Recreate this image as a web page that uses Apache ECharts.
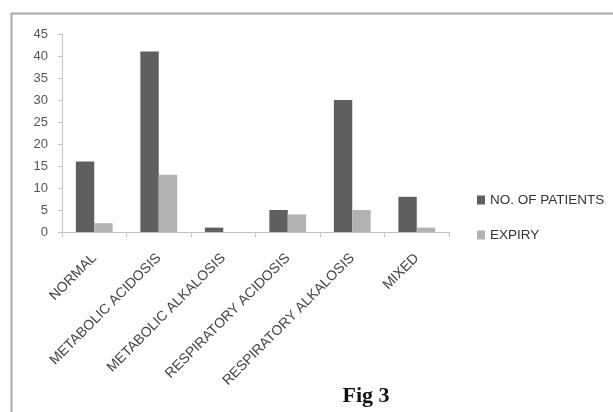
<!DOCTYPE html>
<html><head><meta charset="utf-8">
<script src="https://cdn.jsdelivr.net/npm/echarts@6/dist/echarts.min.js"></script>
<style>html,body{margin:0;padding:0;background:#fff}#c{width:613px;height:412px}</style>
</head><body><div id="c"></div>
<script>
const categories = ['NORMAL','METABOLIC ACIDOSIS','METABOLIC ALKALOSIS','RESPIRATORY ACIDOSIS','RESPIRATORY ALKALOSIS','MIXED'];
const patients = [16, 41, 1, 5, 30, 8];
const expiry = [2, 13, 0, 4, 5, 1];
const yTicks = [0,5,10,15,20,25,30,35,40,45];
const FONT = '"Liberation Sans", Arial, sans-serif';
const chart = echarts.init(document.getElementById('c'));
chart.setOption({
  animation: false,
  backgroundColor: '#fff',
  textStyle: {fontFamily: FONT},
  graphic: [
    {type:'line', shape:{x1:11,y1:13.5,x2:613,y2:13.5}, style:{stroke:'#a8a8a8', lineWidth:2}},
    {type:'line', shape:{x1:11.5,y1:13,x2:11.5,y2:412}, style:{stroke:'#a8a8a8', lineWidth:2}},
    {type:'text', x:366, y:396, style:{text:'Fig 3', font:'bold 22px "Liberation Serif", serif', fill:'#111', textAlign:'center', textVerticalAlign:'middle'}}
  ],
  grid: {left:62, right:164, top:34, bottom:180, containLabel:false},
  legend: {
    orient:'vertical', left:477, top:193, padding:0, itemWidth:8, itemHeight:9, itemGap:21, itemTextGap:4,
    icon:'rect',
    textStyle:{fontFamily:FONT, fontSize:13.5, color:'#333'},
    data:['NO. OF PATIENTS','EXPIRY']
  },
  xAxis: {
    type:'category', data:categories,
    axisLine:{lineStyle:{color:'#c4c4c4'}},
    axisTick:{show:true, length:5, lineStyle:{color:'#c4c4c4'}},
    axisLabel:{rotate:45, interval:0, fontFamily:FONT, fontSize:14, color:'#444', margin:24, padding:[14,0,0,0]}
  },
  yAxis: {
    type:'value', min:0, max:45, interval:5,
    axisLine:{show:true, lineStyle:{color:'#c4c4c4'}},
    axisTick:{show:true, length:4, lineStyle:{color:'#c4c4c4'}},
    splitLine:{show:false},
    axisLabel:{fontFamily:FONT, fontSize:13, color:'#555', margin:14,
      formatter: v => yTicks.includes(v) ? String(v) : ''}
  },
  series: [
    {name:'NO. OF PATIENTS', type:'bar', data:patients, barGap:'0%', barCategoryGap:'43%', itemStyle:{color:'#5f5f5f'}},
    {name:'EXPIRY', type:'bar', data:expiry, itemStyle:{color:'#b2b2b2'}}
  ]
});
</script></body></html>
